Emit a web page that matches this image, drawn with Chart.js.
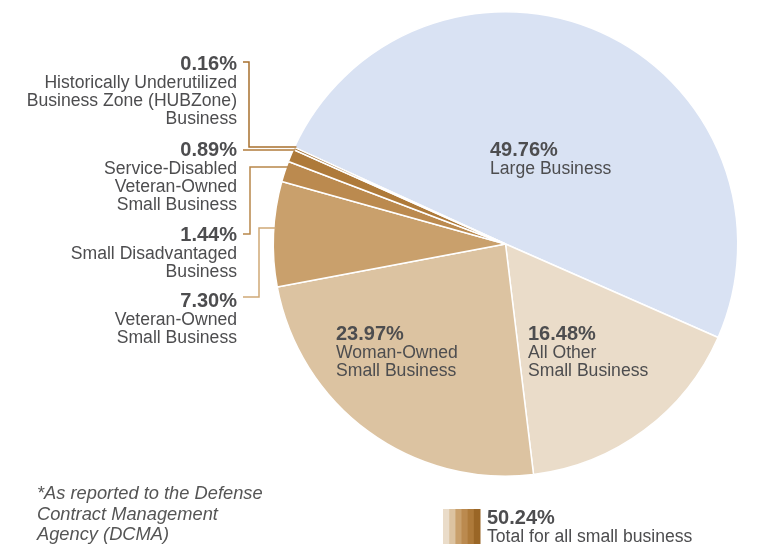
<!DOCTYPE html>
<html>
<head>
<meta charset="utf-8">
<script src="https://cdn.jsdelivr.net/npm/chart.js@4/dist/chart.umd.min.js"></script>
<style>
  html, body { margin: 0; padding: 0; background: #fff; }
  #wrap { position: relative; width: 758px; height: 544px; }
</style>
</head>
<body>
<div id="wrap"><canvas id="pie" width="758" height="544"></canvas></div>
<script>
  // 数値— 時計回り、Large Business から
  var categories = [
    "Large Business",
    "All Other Small Business",
    "Woman-Owned Small Business",
    "Veteran-Owned Small Business",
    "Small Disadvantaged Business",
    "Service-Disabled Veteran-Owned Small Business",
    "Historically Underutilized Business Zone (HUBZone) Business"
  ];
  var shares = [49.76, 16.48, 23.97, 7.30, 1.44, 0.89, 0.16];
  var smallTotal = "50.24%";
  var sliceColors = ["#d9e2f3", "#eadcc9", "#dcc3a1", "#c9a06c", "#bb8a4f", "#ae7a3a", "#9a6626"];

  var TXT = "#4d4d4f";
  var FONT = "'Liberation Sans', Arial, sans-serif";
  var PCT_FONT = "bold 20px " + FONT;
  var LBL_FONT = "17.6px " + FONT;

  // 内側ラベル
  var inner = [
    { i: 0, x: 490, y: 150, lines: ["Large Business"] },
    { i: 2, x: 336, y: 334, lines: ["Woman-Owned", "Small Business"] },
    { i: 1, x: 528, y: 334, lines: ["All Other", "Small Business"] }
  ];

  // 左側ラベル（右揃え）と引き出し線
  var outer = [
    { i: 6, y: 64, lines: ["Historically Underutilized", "Business Zone (HUBZone)", "Business"],
      lead: { x: 249, y0: 62, y1: 147, color: "#a8702e" } },
    { i: 5, y: 150, lines: ["Service-Disabled", "Veteran-Owned", "Small Business"],
      lead: { y1: 150, color: "#b07b3b" } },
    { i: 4, y: 235, lines: ["Small Disadvantaged", "Business"],
      lead: { x: 250, y0: 234, y1: 167, color: "#b8864a" } },
    { i: 3, y: 301, lines: ["Veteran-Owned", "Small Business"],
      lead: { x: 259, y0: 297, y1: 228, color: "#cfa977" } }
  ];

  function pct(v) { return v.toFixed(2) + "%"; }

  var labelPlugin = {
    id: "labels",
    afterDraw: function (chart) {
      var ctx = chart.ctx;
      var arc = chart.getDatasetMeta(0).data[0];
      var cx = arc.x, cy = arc.y, r = arc.outerRadius;
      ctx.save();
      ctx.textBaseline = "middle";

      // 内側
      ctx.textAlign = "left";
      inner.forEach(function (L) {
        ctx.fillStyle = TXT;
        ctx.font = PCT_FONT;
        ctx.fillText(pct(shares[L.i]), L.x, L.y);
        ctx.font = LBL_FONT;
        L.lines.forEach(function (t, k) { ctx.fillText(t, L.x, L.y + 19 + k * 18.5); });
      });

      // 引き出し線
      ctx.lineWidth = 1.5;
      outer.forEach(function (L) {
        var d = L.lead;
        var edgeX = cx - Math.sqrt(Math.max(r * r - (d.y1 - cy) * (d.y1 - cy), 0)) + 2;
        ctx.strokeStyle = d.color;
        ctx.beginPath();
        if (d.x) {
          ctx.moveTo(243, d.y0);
          ctx.lineTo(d.x, d.y0);
          ctx.lineTo(d.x, d.y1);
          ctx.lineTo(edgeX, d.y1);
        } else {
          ctx.moveTo(243, d.y1);
          ctx.lineTo(edgeX, d.y1);
        }
        ctx.stroke();
      });

      // 左側テキスト
      ctx.textAlign = "right";
      outer.forEach(function (L) {
        ctx.fillStyle = TXT;
        ctx.font = PCT_FONT;
        ctx.fillText(pct(shares[L.i]), 237, L.y);
        ctx.font = LBL_FONT;
        L.lines.forEach(function (t, k) { ctx.fillText(t, 237, L.y + 19.5 + k * 18); });
      });

      // 注記
      ctx.textAlign = "left";
      ctx.fillStyle = "#555";
      ctx.font = "italic 18.3px " + FONT;
      ["*As reported to the Defense", "Contract Management", "Agency (DCMA)"].forEach(function (t, k) {
        ctx.fillText(t, 37, 494 + k * 20.5);
      });

      // 小企業合計の凡例
      var stripes = sliceColors.slice(1);
      var bx = 443, bw = 37 / stripes.length;
      stripes.forEach(function (c, k) {
        ctx.fillStyle = c;
        ctx.fillRect(bx + k * bw, 509, bw + 0.5, 35);
      });
      ctx.fillStyle = TXT;
      ctx.font = PCT_FONT;
      ctx.fillText(smallTotal, 487, 518);
      ctx.font = LBL_FONT;
      ctx.fillText("Total for all small business", 487, 537);
      ctx.restore();
    }
  };

  new Chart(document.getElementById("pie"), {
    type: "pie",
    data: {
      labels: categories,
      datasets: [{
        data: shares,
        backgroundColor: sliceColors,
        borderColor: "#ffffff",
        borderWidth: 1.5,
        hoverOffset: 0
      }]
    },
    options: {
      responsive: false,
      animation: false,
      rotation: 294.6,
      layout: { padding: { left: 272, right: 19, top: 11, bottom: 67 } },
      plugins: { legend: { display: false }, tooltip: { enabled: false } }
    },
    plugins: [labelPlugin]
  });
</script>
</body>
</html>
